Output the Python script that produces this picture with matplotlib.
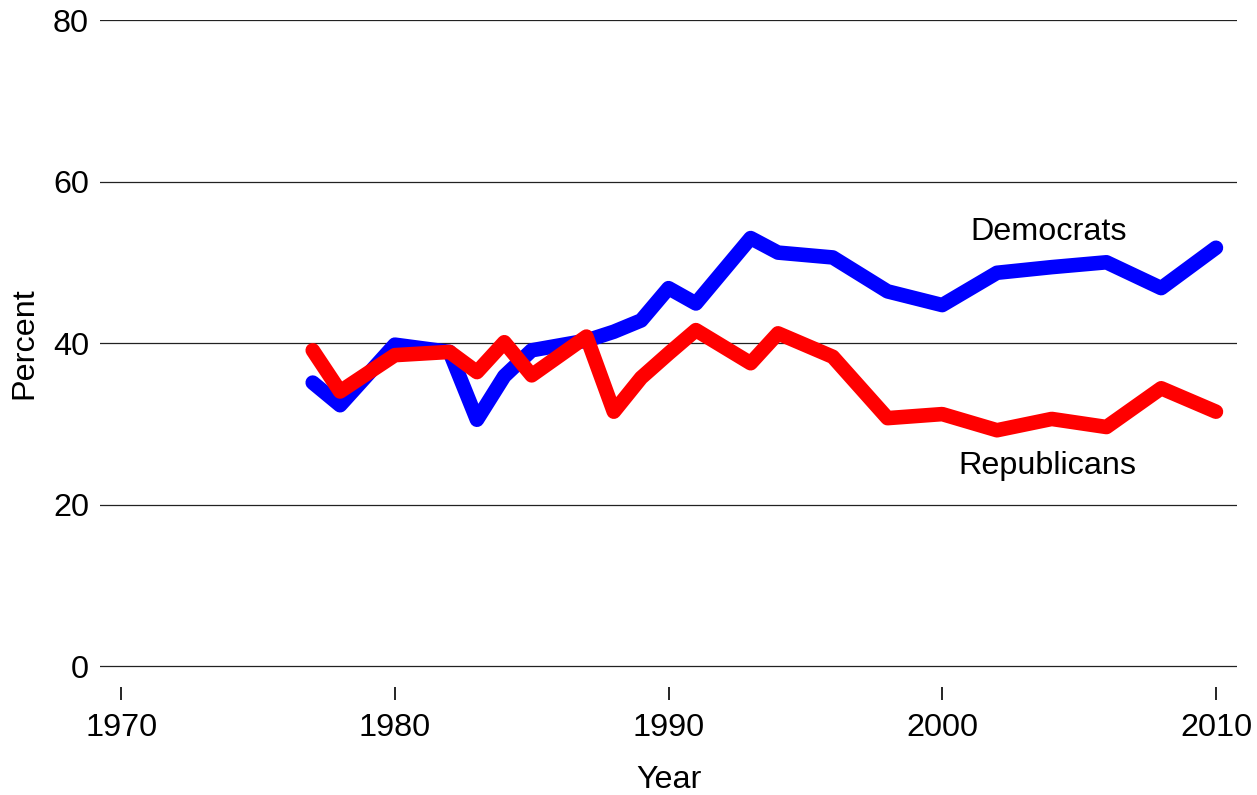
import matplotlib
matplotlib.use("Agg")
import matplotlib.pyplot as plt

plt.rcParams['font.family'] = ['Liberation Sans', 'DejaVu Sans']

years = [1977, 1978, 1980, 1982, 1983, 1984, 1985, 1986, 1987, 1988, 1989,
         1990, 1991, 1993, 1994, 1996, 1998, 2000, 2002, 2004, 2006, 2008, 2010]
democrats = [35.1, 32.3, 39.8, 38.9, 30.5, 35.9, 39.1, 39.7, 40.3, 41.4, 42.8,
             46.8, 44.9, 53.0, 51.2, 50.6, 46.4, 44.7, 48.7, 49.4, 50.0, 46.8, 51.8]
republicans = [39.1, 34.0, 38.5, 38.9, 36.4, 40.1, 36.0, 38.4, 40.8, 31.5, 35.7,
               38.7, 41.6, 37.5, 41.2, 38.3, 30.7, 31.2, 29.2, 30.6, 29.6, 34.4, 31.5]

y_ticks = [0, 20, 40, 60, 80]
x_ticks = [1970, 1980, 1990, 2000, 2010]

fs = 23.3

fig = plt.figure(figsize=(12.57, 7.95), dpi=100)
ax = fig.add_axes([0.0796, 0.1358, 0.9045, 0.839])

for y in y_ticks:
    ax.axhline(y, color='#222222', lw=0.9, zorder=1)

ax.plot(years, democrats, color='#0000ff', lw=10.5, solid_capstyle='round',
        solid_joinstyle='round', zorder=2)
ax.plot(years, republicans, color='#ff0000', lw=10.5, solid_capstyle='round',
        solid_joinstyle='round', zorder=3)

ax.text(2003.9, 53.7, 'Democrats', fontsize=fs, ha='center', va='center')
ax.text(2003.85, 24.8, 'Republicans', fontsize=fs, ha='center', va='center')

ax.set_xlim(1969.23, 2010.77)
ax.set_ylim(-2.6, 80)
ax.set_yticks(y_ticks)
ax.set_xticks(x_ticks)
ax.tick_params(axis='y', length=0, pad=8, labelsize=fs)
ax.tick_params(axis='x', length=9.4, width=1.2, pad=9, labelsize=fs, direction='out')
for s in ax.spines.values():
    s.set_visible(False)

ax.set_xlabel('Year', fontsize=fs, labelpad=16)
ax.set_ylabel('Percent', fontsize=fs)
ax.yaxis.set_label_coords(-0.053, 0.516)

fig.savefig('out.png', dpi=100)
